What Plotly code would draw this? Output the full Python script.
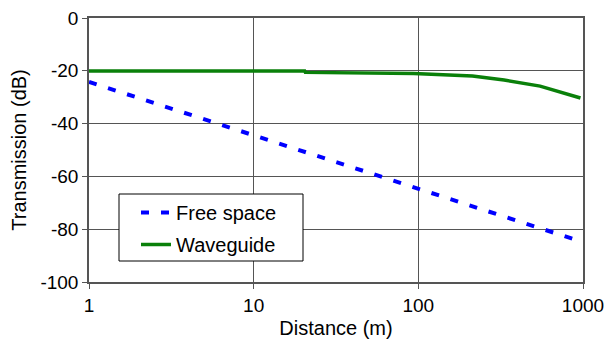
import plotly.graph_objects as go

# Data
free_dist = [1, 10, 100, 1000, 1064]
free_db = [-24.2, -44.2, -64.2, -84.1, -84.6]

wg_dist = [1, 21.3, 21.5, 60, 100, 230, 360, 600, 1064]
wg_db = [-20.1, -20.1, -20.6, -20.7, -21.0, -22.0, -23.5, -25.8, -30.3]

x_ticks = [1, 10, 100, 1000]
x_ticklabels = ["1", "10", "100", "1000"]
y_ticks = [0, -20, -40, -60, -80, -100]
y_ticklabels = ["0", "-20", "-40", "-60", "-80", "-100"]

FONT = "Liberation Sans, Arial, sans-serif"
AX = "#555555"

W, H = 605, 339
L, R, T, B = 89, 15, 18, 57
pw = W - L - R  # 501
ph = H - T - B
inner = 583 - 89  # 494
frac = inner / pw

fig = go.Figure()
# invisible trace so the main x axis is drawn
fig.add_trace(go.Scatter(x=[1, 1000], y=[None, None], mode="lines", showlegend=False,
                         hoverinfo="skip", xaxis="x", yaxis="y"))
fig.add_trace(go.Scatter(x=free_dist, y=free_db, mode="lines", name="Free space",
                         xaxis="x2", yaxis="y", legendgroup="a",
                         line=dict(color="#0000ff", width=4, dash="8px,12px")))
fig.add_trace(go.Scatter(x=wg_dist, y=wg_db, mode="lines", name="Waveguide",
                         xaxis="x2", yaxis="y", legendgroup="b",
                         line=dict(color="#0a800a", width=3.5)))

# legend frame
fig.add_shape(type="rect", xref="paper", yref="paper",
              x0=(119 - L) / pw, x1=(303 - L) / pw,
              y0=(H - B - 261) / ph, y1=(H - B - 194) / ph,
              line=dict(color="black", width=1), fillcolor="white", layer="above")

fig.update_layout(
    width=W, height=H,
    margin=dict(l=L, r=R, t=T, b=B, autoexpand=False),
    paper_bgcolor="white", plot_bgcolor="white",
    font=dict(family=FONT, size=18, color="black"),
    showlegend=True,
    legend=dict(x=(136 - L) / pw, y=(H - B - 193) / ph, xanchor="left", yanchor="top",
                bgcolor="rgba(0,0,0,0)", borderwidth=0,
                font=dict(size=20, family=FONT),
                tracegroupgap=3),
    xaxis=dict(type="log", domain=[0, frac], range=[0, 3],
               tickvals=x_ticks, ticktext=x_ticklabels,
               showgrid=True, gridcolor=AX, gridwidth=1,
               showline=True, linecolor=AX, linewidth=1.5, mirror=True,
               ticks="outside", ticklen=5, tickcolor=AX,
               tickfont=dict(size=19), automargin=False,
               title=dict(text="Distance (m)", font=dict(size=20), standoff=6),
               zeroline=False, anchor="y"),
    xaxis2=dict(type="log", domain=[0, 1], range=[0, 3 / frac],
                overlaying="x", visible=False, anchor="y"),
    yaxis=dict(range=[-100, 0], tickvals=y_ticks, ticktext=y_ticklabels,
               showgrid=True, gridcolor=AX, gridwidth=1,
               showline=True, linecolor=AX, linewidth=1.5, mirror=True,
               ticks="outside", ticklen=5, tickcolor=AX,
               tickfont=dict(size=19), automargin=False,
               title=dict(text="Transmission (dB)", font=dict(size=20), standoff=8),
               zeroline=False, anchor="x"),
)

fig.write_html("out.html")
